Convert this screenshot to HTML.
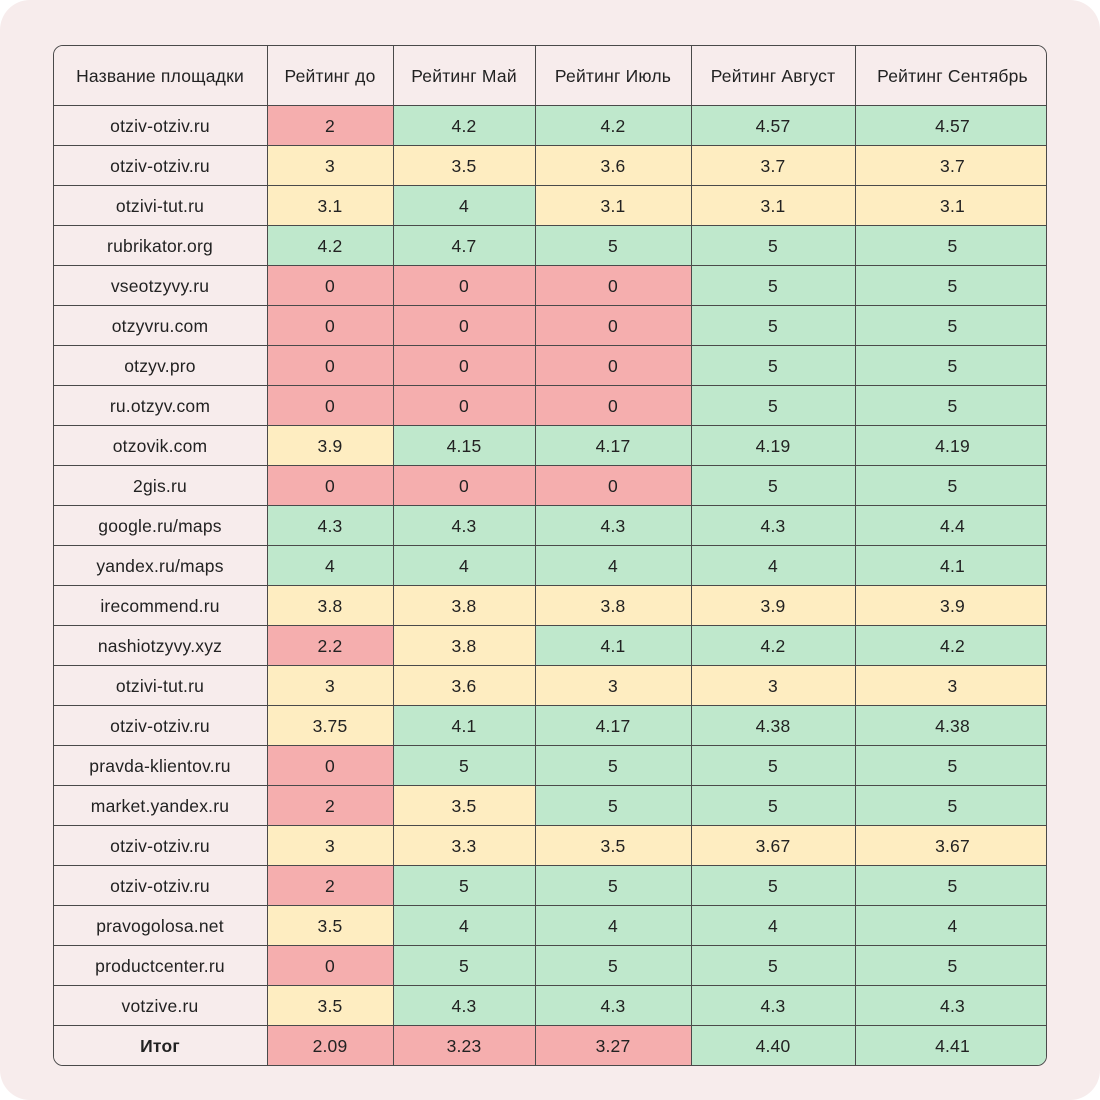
<!DOCTYPE html>
<html><head><meta charset="utf-8"><style>
html,body{margin:0;padding:0;background:#fff;}
.bg{position:absolute;left:0;top:0;width:1100px;height:1100px;background:#f7ecec;border-radius:30px;}
.wrap{position:absolute;left:53px;top:45px;width:994px;height:1021px;border:1.5px solid #4a4a4a;border-radius:10px;overflow:hidden;box-sizing:border-box;}
table{border-collapse:collapse;table-layout:fixed;width:997px;margin:-1.5px;font-family:"Liberation Sans",sans-serif;font-size:17.5px;color:#222;letter-spacing:0.2px;}
td{border:1.5px solid #4a4a4a;height:40px;padding:3px 0 0 0;text-align:center;box-sizing:border-box;background:#f7ecec;white-space:nowrap;}
tr.h td{height:60px;}
td.R{background:#f5aeae;} td.Y{background:#feedc1;} td.G{background:#bfe8cc;}
</style></head><body>
<div class="bg"></div>
<div class="wrap"><table>
<colgroup><col style="width:214px"><col style="width:126px"><col style="width:142px"><col style="width:156px"><col style="width:164px"><col style="width:195px"></colgroup>
<tr class="h"><td>Название площадки</td><td>Рейтинг до</td><td>Рейтинг Май</td><td>Рейтинг Июль</td><td>Рейтинг Август</td><td>Рейтинг Сентябрь</td></tr>
<tr><td>otziv-otziv.ru</td><td class="R">2</td><td class="G">4.2</td><td class="G">4.2</td><td class="G">4.57</td><td class="G">4.57</td></tr>
<tr><td>otziv-otziv.ru</td><td class="Y">3</td><td class="Y">3.5</td><td class="Y">3.6</td><td class="Y">3.7</td><td class="Y">3.7</td></tr>
<tr><td>otzivi-tut.ru</td><td class="Y">3.1</td><td class="G">4</td><td class="Y">3.1</td><td class="Y">3.1</td><td class="Y">3.1</td></tr>
<tr><td>rubrikator.org</td><td class="G">4.2</td><td class="G">4.7</td><td class="G">5</td><td class="G">5</td><td class="G">5</td></tr>
<tr><td>vseotzyvy.ru</td><td class="R">0</td><td class="R">0</td><td class="R">0</td><td class="G">5</td><td class="G">5</td></tr>
<tr><td>otzyvru.com</td><td class="R">0</td><td class="R">0</td><td class="R">0</td><td class="G">5</td><td class="G">5</td></tr>
<tr><td>otzyv.pro</td><td class="R">0</td><td class="R">0</td><td class="R">0</td><td class="G">5</td><td class="G">5</td></tr>
<tr><td>ru.otzyv.com</td><td class="R">0</td><td class="R">0</td><td class="R">0</td><td class="G">5</td><td class="G">5</td></tr>
<tr><td>otzovik.com</td><td class="Y">3.9</td><td class="G">4.15</td><td class="G">4.17</td><td class="G">4.19</td><td class="G">4.19</td></tr>
<tr><td>2gis.ru</td><td class="R">0</td><td class="R">0</td><td class="R">0</td><td class="G">5</td><td class="G">5</td></tr>
<tr><td>google.ru/maps</td><td class="G">4.3</td><td class="G">4.3</td><td class="G">4.3</td><td class="G">4.3</td><td class="G">4.4</td></tr>
<tr><td>yandex.ru/maps</td><td class="G">4</td><td class="G">4</td><td class="G">4</td><td class="G">4</td><td class="G">4.1</td></tr>
<tr><td>irecommend.ru</td><td class="Y">3.8</td><td class="Y">3.8</td><td class="Y">3.8</td><td class="Y">3.9</td><td class="Y">3.9</td></tr>
<tr><td>nashiotzyvy.xyz</td><td class="R">2.2</td><td class="Y">3.8</td><td class="G">4.1</td><td class="G">4.2</td><td class="G">4.2</td></tr>
<tr><td>otzivi-tut.ru</td><td class="Y">3</td><td class="Y">3.6</td><td class="Y">3</td><td class="Y">3</td><td class="Y">3</td></tr>
<tr><td>otziv-otziv.ru</td><td class="Y">3.75</td><td class="G">4.1</td><td class="G">4.17</td><td class="G">4.38</td><td class="G">4.38</td></tr>
<tr><td>pravda-klientov.ru</td><td class="R">0</td><td class="G">5</td><td class="G">5</td><td class="G">5</td><td class="G">5</td></tr>
<tr><td>market.yandex.ru</td><td class="R">2</td><td class="Y">3.5</td><td class="G">5</td><td class="G">5</td><td class="G">5</td></tr>
<tr><td>otziv-otziv.ru</td><td class="Y">3</td><td class="Y">3.3</td><td class="Y">3.5</td><td class="Y">3.67</td><td class="Y">3.67</td></tr>
<tr><td>otziv-otziv.ru</td><td class="R">2</td><td class="G">5</td><td class="G">5</td><td class="G">5</td><td class="G">5</td></tr>
<tr><td>pravogolosa.net</td><td class="Y">3.5</td><td class="G">4</td><td class="G">4</td><td class="G">4</td><td class="G">4</td></tr>
<tr><td>productcenter.ru</td><td class="R">0</td><td class="G">5</td><td class="G">5</td><td class="G">5</td><td class="G">5</td></tr>
<tr><td>votzive.ru</td><td class="Y">3.5</td><td class="G">4.3</td><td class="G">4.3</td><td class="G">4.3</td><td class="G">4.3</td></tr>
<tr><td style="font-weight:bold">Итог</td><td class="R">2.09</td><td class="R">3.23</td><td class="R">3.27</td><td class="G">4.40</td><td class="G">4.41</td></tr>
</table></div>
</body></html>
